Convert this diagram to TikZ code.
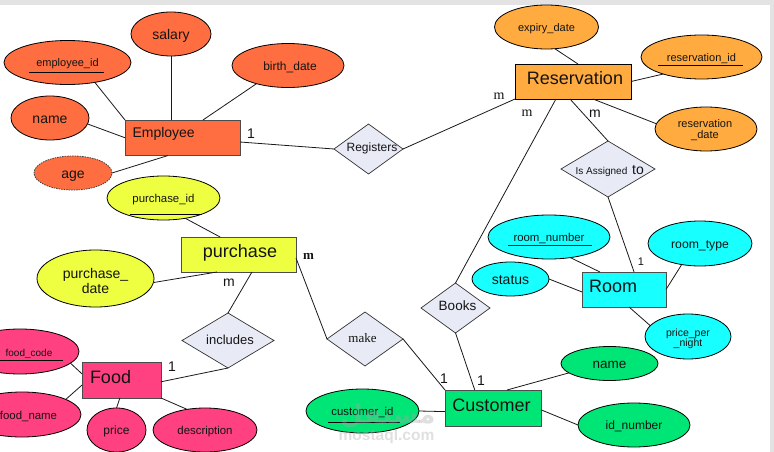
\documentclass[tikz,border=0pt]{standalone}
\usepackage{fontspec}
\setmainfont{Liberation Sans}
\newfontfamily\serifm{Liberation Serif}
\newfontfamily\arabicfont[Script=Arabic]{DejaVu Sans}
\TeXXeTstate=1
\usetikzlibrary{shapes.geometric,calc}
\newcommand{\fs}[1]{\fontsize{#1}{#1}\selectfont}
\definecolor{empc}{HTML}{FF6E40}
\definecolor{resc}{HTML}{FFAB40}
\definecolor{purc}{HTML}{EEFF41}
\definecolor{fooc}{HTML}{FF4081}
\definecolor{cusc}{HTML}{00E676}
\definecolor{rooc}{HTML}{18FFFF}
\definecolor{relc}{HTML}{E8EAF6}
\definecolor{ink}{HTML}{141414}
\tikzset{
  x=1pt,y=-1pt,
  attr/.style={ellipse,draw=black,line width=.8pt,inner sep=0pt,outer sep=0pt,text=ink,align=center},
  ent/.style={rectangle,draw=black,line width=.9pt,inner sep=0pt,outer sep=0pt},
  rel/.style={diamond,aspect=1,draw=black!80,line width=.7pt,fill=relc,inner sep=0pt,outer sep=0pt},
  txt/.style={inner sep=0pt,outer sep=0pt,text=ink,align=center},
  conn/.style={draw=black!90,line width=.8pt},
  ul/.style={draw=black,line width=.8pt},
  fz/.style={font=\fs{#1},text height=#1*0.8pt,text depth=0pt}
}
\begin{document}
\begin{tikzpicture}
\useasboundingbox (0,0) rectangle (774,452);
\fill[white] (0,0) rectangle (774,452);
\fill[black!11] (0,0) rectangle (774,5);
\fill[black!11] (769.5,0) rectangle (774,452);

% ---------- nodes: entities
\node[ent,draw=black!70,fill=empc,minimum width=115pt,minimum height=35.5pt] (emp) at (182.5,137.75) {};
\node[ent,fill=resc,minimum width=116pt,minimum height=35pt] (res) at (573,81.5) {};
\node[ent,draw=black!70,fill=purc,minimum width=115pt,minimum height=35pt] (pur) at (238.5,254.5) {};
\node[ent,draw=black!70,fill=fooc,minimum width=79pt,minimum height=36pt] (foo) at (121.5,380) {};
\node[ent,draw=black!70,fill=cusc,minimum width=96pt,minimum height=36pt] (cus) at (493,408) {};
\node[ent,draw=black!70,fill=rooc,minimum width=84pt,minimum height=35pt] (roo) at (624,289.5) {};

% ---------- nodes: relationships
\node[rel,minimum width=69pt,minimum height=50pt] (regs) at (368.5,149) {};
\node[rel,minimum width=94pt,minimum height=56pt] (asg) at (608,169) {};
\node[rel,minimum width=69pt,minimum height=50pt] (bks) at (455.5,308) {};
\node[rel,minimum width=92pt,minimum height=55pt] (inc) at (228,340.5) {};
\node[rel,minimum width=76pt,minimum height=54pt] (mak) at (365,339) {};

% ---------- nodes: attributes
\node[attr,fill=empc,minimum width=127pt,minimum height=44pt,fz=11] (empid) at (67.5,62.5) {employee\_id};
\node[attr,fill=empc,minimum width=80pt,minimum height=44pt,fz=14] (sal) at (171,34) {salary};
\node[attr,fill=empc,minimum width=112pt,minimum height=44pt,fz=12] (bdt) at (288,65.5) {\hspace*{4pt}birth\_date};
\node[attr,fill=empc,minimum width=78pt,minimum height=44pt,fz=14] (enm) at (50,118) {name};
\node[attr,draw=black!75,dashed,dash pattern=on 1.5pt off 1pt,fill=empc,minimum width=78pt,minimum height=34pt,fz=14] (age) at (73,173) {age};

\node[attr,fill=purc,minimum width=113pt,minimum height=44pt,fz=11.4] (pid) at (163.5,198) {purchase\_id};
\node[attr,fill=purc,minimum width=117pt,minimum height=57pt] (pdt) at (95.5,278.5) {};

\node[attr,fill=resc,minimum width=104pt,minimum height=44pt,fz=11] (exp) at (546.5,27) {expiry\_date};
\node[attr,fill=resc,minimum width=121pt,minimum height=44pt,fz=11] (rid) at (701.5,57) {reservation\_id};
\node[attr,fill=resc,minimum width=102pt,minimum height=44pt] (rdt) at (706,129) {};

\node[attr,fill=rooc,minimum width=122pt,minimum height=44pt,fz=11.4] (rnu) at (549,237) {room\_number};
\node[attr,fill=rooc,minimum width=104pt,minimum height=45pt,fz=12.2] (rty) at (700,243.5) {room\_type};
\node[attr,fill=rooc,minimum width=77pt,minimum height=34pt,fz=14] (sta) at (510.5,279) {status};
\node[attr,fill=rooc,minimum width=86pt,minimum height=45pt] (ppn) at (688,336.5) {};

\node[attr,fill=fooc,minimum width=118pt,minimum height=45pt] (fco) at (20,351.5) {};
\node[attr,fill=fooc,minimum width=118pt,minimum height=45pt] (fna) at (22,414.5) {};
\node[attr,fill=fooc,minimum width=59pt,minimum height=44pt,fz=12] (pri) at (116.5,430) {price};
\node[attr,fill=fooc,minimum width=104pt,minimum height=44pt,fz=11.4] (des) at (205,430) {description};

\node[attr,fill=cusc,minimum width=113pt,minimum height=44pt,fz=11.4] (cid) at (362.5,411) {customer\_id};
\node[attr,fill=cusc,minimum width=97pt,minimum height=34pt,fz=13.5] (cnm) at (609.5,363.5) {name};
\node[attr,fill=cusc,minimum width=112pt,minimum height=44pt,fz=12] (inu) at (634,425) {id\_number};

% ---------- connectors
\draw[conn] (empid.-36) -- (emp.north west);
\draw[conn] (sal.south) -- (sal.south |- emp.north);
\draw[conn] (bdt.210) -- ($(emp.north west)!.678!(emp.north east)$);
\draw[conn] (enm.-9) -- (emp.west);
\draw[conn] (age.east) -- ($(emp.south west)!.374!(emp.south east)$);
\draw[conn] ($(emp.north east)!.62!(emp.south east)$) -- (regs.west);
\draw[conn] (regs.east) -- (res.south west);
\draw[conn] (exp.-69) -- ($(res.north west)!.543!(res.north east)$);
\draw[conn] (rid.204) -- (res.east);
\draw[conn] (rdt.174) -- ($(res.south west)!.672!(res.south east)$);
\draw[conn] ($(res.south west)!.474!(res.south east)$) -- (asg.north);
\draw[conn] ($(res.south west)!.353!(res.south east)$) -- (bks.north);
\draw[conn] (asg.south) -- ($(roo.north west)!.62!(roo.north east)$);
\draw[conn] (rnu.-44.5) -- ($(roo.north west)!.214!(roo.north east)$);
\draw[conn] (sta.east) -- ($(roo.north west)!.57!(roo.south west)$);
\draw[conn] (rty.229.5) -- (roo.east);
\draw[conn] (ppn.164.5) -- ($(roo.south west)!.56!(roo.south east)$);
\draw[conn] (bks.south) -- ($(cus.north west)!.31!(cus.north east)$);
\draw[conn] (mak.east) -- (cus.north west);
\draw[conn] ($(pur.north east)!.6!(pur.south east)$) -- (mak.west);
\draw[conn] (pid.-43) -- ($(pur.north west)!.34!(pur.north east)$);
\draw[conn] (pdt.-4.3) -- ($(pur.south west)!.313!(pur.south east)$);
\draw[conn] (inc.north) -- ($(pur.south west)!.617!(pur.south east)$);
\draw[conn] (inc.south) -- ($(foo.north east)!.55!(foo.south east)$);
\draw[conn] (fco.-13) -- ($(foo.north west)!.33!(foo.south west)$);
\draw[conn] (fna.19.4) -- ($(foo.north west)!.64!(foo.south west)$);
\draw[conn] (pri.north) -- ($(foo.south west)!.48!(foo.south east)$);
\draw[conn] (des.131) -- (foo.south east);
\draw[conn] (cid.east) -- ($(cus.north west)!.6!(cus.south west)$);
\draw[conn] ($(cus.north west)!.646!(cus.north east)$) -- (cnm.193);
\draw[conn] ($(cus.north east)!.55!(cus.south east)$) -- (inu.west);

% ---------- underlines of key attributes
\draw[ul] (29,72) -- (104,72);
\draw[ul] (130,214) -- (202,214);
\draw[ul] (658,65) -- (743,65);
\draw[draw=black!60!teal,line width=1pt] (508,245) -- (592,245);
\draw[ul] (0,360) -- (63,360);
\draw[ul] (328,422) -- (400,422);

% ---------- texts of the entities, relationships and two-line attributes
\node[txt,anchor=west,fz=14] (empT) at (132.5,132) {Employee};
\node[txt,fz=18] (resT) at (575,77) {Reservation};
\node[txt,fz=18] (purT) at (240,250) {purchase};
\node[txt,anchor=west,fz=18] (fooT) at (90,376.5) {Food};
\node[txt,fz=18] (cusT) at (491.5,404) {Customer};
\node[txt,anchor=west,fz=18] (rooT) at (589,285) {Room};

\node[txt,fz=12] (regT) at (372,147) {Registers};
\node[txt,fz=10] (asgT) at (601.5,170.5) {Is Assigned};
\node[txt,fz=14] (asgU) at (638,169) {to};
\node[txt,fz=13.5] (bksT) at (457.5,305) {Books};
\node[txt,fz=13] (incT) at (230,339.5) {includes};
\node[txt,font=\serifm\fs{13},text height=10.4pt,text depth=0pt] (makT) at (362.5,337) {make};

\node[txt,font=\fs{14}] (pdtT) at (95.5,280.5) {purchase\_\\[1pt]date};
\node[txt,font=\fs{11},align=center] (rdtT) at (705,130.5) {reservation\\\_date};
\node[txt,font=\fs{10.5}] (ppnT) at (688,339) {price\_per\\\_night};
\node[txt,fz=10] (fcoT) at (29,352.5) {food\_code};
\node[txt,fz=11.4] (fnaT) at (28.5,414.5) {food\_name};

% ---------- cardinalities
\node[txt,fz=14] (c1) at (251,132.5) {1};
\node[txt,font=\serifm\fs{14}] (c2) at (499,96) {m};
\node[txt,font=\serifm\fs{14}] (c3) at (527,113) {m};
\node[txt,font=\fs{14}] (c4) at (595,114) {m};
\node[txt,fz=11] (c5) at (641,261) {1};
\node[txt,font=\fs{14}] (c6) at (229,283) {m};
\node[txt,font=\serifm\bfseries\fs{13}] (c7) at (308.5,256) {m};
\node[txt,fz=14] (c8) at (172,366) {1};
\node[txt,fz=14] (c9) at (444,378) {1};
\node[txt,fz=14] (c10) at (481,379.5) {1};

% ---------- watermark
\node[txt,text=black!35,opacity=.35,font=\arabicfont\bfseries\fs{26}] (wma) at (388,416) {\beginR مستقل\endR};
\node[txt,text=black!30,opacity=.4,font=\bfseries\fs{15.5}] (wmb) at (386.5,436.5) {mostaql.com};
\end{tikzpicture}
\end{document}
